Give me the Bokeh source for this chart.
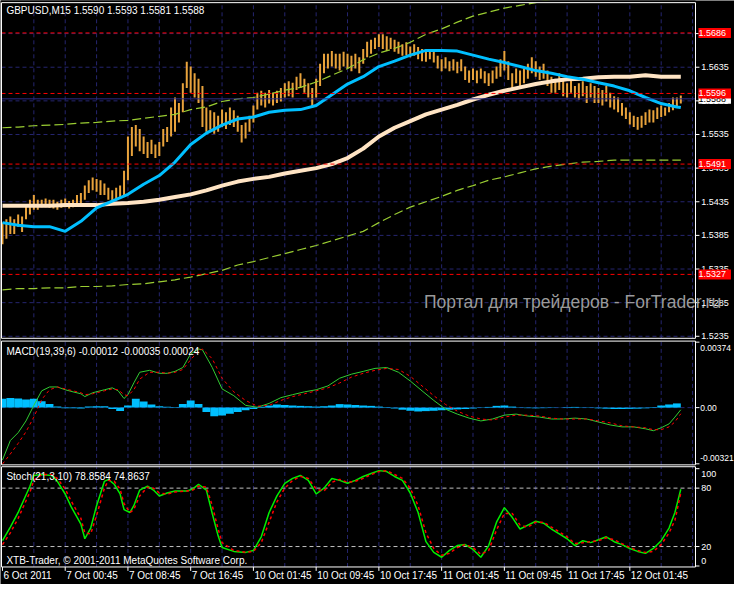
from bokeh.plotting import figure
from bokeh.models import ColumnDataSource, Label, LabelSet, Range1d
from bokeh.embed import file_html
from bokeh.resources import INLINE
from bokeh.core.properties import value

# ---------------- data ----------------
# price bars (every second M15 bar), bar numbers in M15 units
bar_time = list(range(0, 348, 2))
bar_high = [
    1.5404, 1.5409, 1.5413, 1.5409, 1.5416, 1.5413, 1.5430, 1.5438, 1.5445, 1.5438,
    1.5438, 1.5440, 1.5438, 1.5438, 1.5435, 1.5438, 1.5440, 1.5436, 1.5438, 1.5445,
    1.5448, 1.5459, 1.5467, 1.5471, 1.5469, 1.5467, 1.5462, 1.5456, 1.5452, 1.5456,
    1.5459, 1.5481, 1.5532, 1.5546, 1.5549, 1.5543, 1.5532, 1.5524, 1.5527, 1.5520,
    1.5524, 1.5543, 1.5546, 1.5575, 1.5590, 1.5582, 1.5611, 1.5643, 1.5636, 1.5626,
    1.5618, 1.5607, 1.5575, 1.5571, 1.5568, 1.5563, 1.5572, 1.5568, 1.5575, 1.5571,
    1.5563, 1.5549, 1.5553, 1.5563, 1.5578, 1.5597, 1.5600, 1.5597, 1.5601, 1.5597,
    1.5600, 1.5604, 1.5611, 1.5614, 1.5612, 1.5621, 1.5626, 1.5618, 1.5611, 1.5604,
    1.5618, 1.5640, 1.5655, 1.5655, 1.5659, 1.5655, 1.5655, 1.5658, 1.5655, 1.5652,
    1.5655, 1.5650, 1.5662, 1.5673, 1.5676, 1.5679, 1.5684, 1.5684, 1.5681, 1.5679,
    1.5676, 1.5673, 1.5669, 1.5672, 1.5666, 1.5669, 1.5665, 1.5662, 1.5659, 1.5662,
    1.5659, 1.5652, 1.5647, 1.5650, 1.5644, 1.5647, 1.5643, 1.5647, 1.5636, 1.5630,
    1.5633, 1.5630, 1.5633, 1.5629, 1.5626, 1.5630, 1.5636, 1.5647, 1.5659, 1.5644,
    1.5626, 1.5633, 1.5630, 1.5633, 1.5640, 1.5650, 1.5644, 1.5636, 1.5640, 1.5630,
    1.5621, 1.5618, 1.5626, 1.5616, 1.5611, 1.5618, 1.5607, 1.5611, 1.5614, 1.5607,
    1.5611, 1.5607, 1.5604, 1.5601, 1.5607, 1.5597, 1.5592, 1.5590, 1.5582, 1.5575,
    1.5568, 1.5563, 1.5561, 1.5563, 1.5568, 1.5572, 1.5571, 1.5575, 1.5578, 1.5575,
    1.5582, 1.5590, 1.5590, 1.5593]
bar_low = [
    1.5372, 1.5380, 1.5387, 1.5387, 1.5398, 1.5390, 1.5409, 1.5416, 1.5423, 1.5423,
    1.5427, 1.5427, 1.5426, 1.5425, 1.5423, 1.5426, 1.5427, 1.5425, 1.5427, 1.5430,
    1.5433, 1.5438, 1.5448, 1.5452, 1.5450, 1.5445, 1.5445, 1.5438, 1.5433, 1.5438,
    1.5440, 1.5445, 1.5467, 1.5503, 1.5517, 1.5510, 1.5506, 1.5500, 1.5506, 1.5500,
    1.5503, 1.5517, 1.5524, 1.5532, 1.5539, 1.5553, 1.5568, 1.5604, 1.5597, 1.5590,
    1.5582, 1.5546, 1.5539, 1.5542, 1.5536, 1.5539, 1.5546, 1.5543, 1.5549, 1.5546,
    1.5539, 1.5523, 1.5529, 1.5539, 1.5553, 1.5572, 1.5578, 1.5575, 1.5581, 1.5578,
    1.5582, 1.5584, 1.5590, 1.5592, 1.5590, 1.5601, 1.5604, 1.5597, 1.5590, 1.5575,
    1.5590, 1.5607, 1.5626, 1.5633, 1.5636, 1.5633, 1.5630, 1.5636, 1.5633, 1.5629,
    1.5633, 1.5626, 1.5640, 1.5650, 1.5655, 1.5662, 1.5665, 1.5662, 1.5659, 1.5662,
    1.5658, 1.5655, 1.5652, 1.5653, 1.5650, 1.5652, 1.5647, 1.5644, 1.5643, 1.5647,
    1.5642, 1.5633, 1.5629, 1.5633, 1.5629, 1.5630, 1.5626, 1.5629, 1.5616, 1.5612,
    1.5616, 1.5611, 1.5618, 1.5611, 1.5607, 1.5611, 1.5618, 1.5621, 1.5630, 1.5616,
    1.5604, 1.5611, 1.5607, 1.5611, 1.5618, 1.5626, 1.5621, 1.5616, 1.5618, 1.5607,
    1.5597, 1.5597, 1.5601, 1.5592, 1.5590, 1.5597, 1.5590, 1.5587, 1.5592, 1.5582,
    1.5590, 1.5582, 1.5582, 1.5578, 1.5584, 1.5575, 1.5572, 1.5568, 1.5563, 1.5558,
    1.5550, 1.5546, 1.5542, 1.5545, 1.5549, 1.5553, 1.5553, 1.5558, 1.5561, 1.5563,
    1.5568, 1.5571, 1.5575, 1.5581]

# moving averages and envelope (sampled every 8 bars)
ma_time = list(range(0, 345, 8)) + [346]
ma_fast = [1.5404, 1.5400, 1.5398, 1.5398, 1.5391, 1.5406, 1.5426, 1.5436, 1.5446, 1.5461,
           1.5474, 1.5494, 1.5520, 1.5537, 1.5549, 1.5558, 1.5561, 1.5568, 1.5571, 1.5572,
           1.5578, 1.5594, 1.5610, 1.5621, 1.5636, 1.5644, 1.5653, 1.5660, 1.5660, 1.5659,
           1.5653, 1.5647, 1.5642, 1.5636, 1.5630, 1.5626, 1.5621, 1.5617, 1.5612, 1.5607,
           1.5600, 1.5590, 1.5581, 1.5576, 1.5575]
ma_slow = [1.5429, 1.5429, 1.5429, 1.5429, 1.5430, 1.5430, 1.5430, 1.5432, 1.5433, 1.5435,
           1.5438, 1.5442, 1.5446, 1.5452, 1.5459, 1.5465, 1.5469, 1.5472, 1.5477, 1.5481,
           1.5485, 1.5491, 1.5500, 1.5514, 1.5532, 1.5545, 1.5555, 1.5565, 1.5572, 1.5579,
           1.5587, 1.5594, 1.5600, 1.5605, 1.5610, 1.5614, 1.5617, 1.5618, 1.5620, 1.5621,
           1.5621, 1.5623, 1.5621, 1.5621, 1.5621]
env_upper = [1.5545, 1.5546, 1.5548, 1.5549, 1.5550, 1.5552, 1.5553, 1.5555, 1.5556, 1.5559,
             1.5562, 1.5565, 1.5572, 1.5576, 1.5584, 1.5588, 1.5590, 1.5595, 1.5601, 1.5605,
             1.5613, 1.5623, 1.5633, 1.5646, 1.5656, 1.5663, 1.5672, 1.5684, 1.5692, 1.5702,
             1.5711, 1.5717, 1.5723, 1.5727, 1.5731, 1.5736, 1.5739, 1.5741, 1.5743, 1.5744,
             1.5746, 1.5747, 1.5747, 1.5749, 1.5749]
env_lower = [1.5304, 1.5306, 1.5306, 1.5307, 1.5307, 1.5309, 1.5309, 1.5310, 1.5312, 1.5313,
             1.5316, 1.5319, 1.5323, 1.5328, 1.5333, 1.5341, 1.5346, 1.5352, 1.5358, 1.5364,
             1.5370, 1.5377, 1.5384, 1.5391, 1.5404, 1.5416, 1.5427, 1.5435, 1.5443, 1.5452,
             1.5459, 1.5467, 1.5472, 1.5478, 1.5484, 1.5488, 1.5491, 1.5494, 1.5495, 1.5497,
             1.5497, 1.5497, 1.5497, 1.5497, 1.5497]

level_prices = [1.5686, 1.5596, 1.5491, 1.5327]
bid_price = 1.5588
price_ticks = [1.5235, 1.5285, 1.5335, 1.5385, 1.5435, 1.5485, 1.5535, 1.5585, 1.5635, 1.5685]

# MACD(19,39,6)
macd_time = [0, 4, 8, 12, 16, 20, 24, 28, 32, 36, 40, 42, 46, 52, 56, 59, 62, 64, 67, 70,
             75, 80, 84, 88, 92, 96, 100, 102, 107, 112, 118, 124, 130, 136, 142, 148, 154, 160, 166, 172,
             178, 184, 190, 196, 202, 208, 214, 220, 226, 232, 238, 244, 250, 256, 262, 268, 274, 280, 286, 292,
             298, 304, 310, 316, 322, 328, 332, 336, 340, 343, 346]
macd_main = [-0.00299, -0.00188, -0.00143, -0.00076, 0.00013, 0.00096, 0.00118, 0.00118, 0.00102, 0.00090,
             0.00079, 0.00063, 0.00085, 0.00102, 0.00113, 0.00096, 0.00052, 0.00074, 0.00141, 0.00202,
             0.00213, 0.00196, 0.00196, 0.00207, 0.00229, 0.00307, 0.00335, 0.00330, 0.00229, 0.00107,
             0.00068, 0.00013, 0.00002, 0.00024, 0.00057, 0.00074, 0.00090, 0.00102, 0.00124, 0.00168,
             0.00191, 0.00207, 0.00224, 0.00229, 0.00202, 0.00152, 0.00096, 0.00041, -0.00009, -0.00037,
             -0.00060, -0.00076, -0.00065, -0.00043, -0.00037, -0.00048, -0.00054, -0.00065, -0.00065, -0.00060,
             -0.00065, -0.00082, -0.00099, -0.00110, -0.00110, -0.00121, -0.00132, -0.00115, -0.00093, -0.00054,
             -0.00012]
macd_signal = [-0.00322, -0.00265, -0.00204, -0.00138, -0.00054, 0.00046, 0.00102, 0.00118, 0.00107, 0.00096,
               0.00085, 0.00074, 0.00079, 0.00096, 0.00107, 0.00102, 0.00074, 0.00068, 0.00102, 0.00163,
               0.00202, 0.00202, 0.00196, 0.00202, 0.00218, 0.00274, 0.00324, 0.00335, 0.00279, 0.00168,
               0.00090, 0.00041, 0.00008, 0.00013, 0.00041, 0.00063, 0.00079, 0.00096, 0.00113, 0.00141,
               0.00174, 0.00196, 0.00213, 0.00224, 0.00218, 0.00179, 0.00124, 0.00068, 0.00018, -0.00020,
               -0.00048, -0.00065, -0.00071, -0.00054, -0.00043, -0.00043, -0.00048, -0.00060, -0.00065, -0.00065,
               -0.00065, -0.00076, -0.00087, -0.00104, -0.00110, -0.00115, -0.00126, -0.00126, -0.00110, -0.00082,
               -0.00035]
hist_time = list(range(0, 348, 4))
macd_hist = [0.00050, 0.00055, 0.00052, 0.00046, 0.00050, 0.00036, 0.00020, 0.00006, -0.00003, -0.00004,
             -0.00005, 0.00006, 0.00008, 0.00008, -0.00008, -0.00020, 0.00012, 0.00050, 0.00035, 0.00018,
             0.00008, 0.00005, 0.00004, 0.00020, 0.00040, 0.00020, -0.00025, -0.00050, -0.00045, -0.00035,
             -0.00025, -0.00015, -0.00008, 0.00005, 0.00012, 0.00018, 0.00015, 0.00012, 0.00010, 0.00008,
             0.00006, 0.00008, 0.00012, 0.00020, 0.00018, 0.00015, 0.00012, 0.00010, 0.00006, 0.00003,
             -0.00005, -0.00012, -0.00018, -0.00022, -0.00020, -0.00018, -0.00015, -0.00012, -0.00010, -0.00008,
             -0.00005, -0.00002, 0.00004, 0.00010, 0.00012, 0.00006, 0.00002, -0.00003, -0.00004, -0.00003,
             -0.00002, 0.00001, 0.00003, 0.00004, 0.00002, -0.00002, -0.00004, -0.00006, -0.00008, -0.00008,
             -0.00007, -0.00006, -0.00004, 0.00003, 0.00012, 0.00018, 0.00024]
macd_ticks = [0.00374, 0.0, -0.00321]
macd_tick_labels = ["0.00374", "0.00", "-0.00321"]

# Stoch(21,3,10)
stoch_time = [0, 4, 8, 14, 16, 20, 25, 28, 32, 35, 40, 42, 45, 48, 52, 54, 57, 60, 62, 65,
              67, 70, 74, 77, 80, 84, 88, 94, 97, 100, 104, 107, 110, 112, 118, 124, 128, 132, 136, 140,
              144, 148, 152, 156, 160, 164, 168, 172, 176, 180, 184, 188, 192, 196, 200, 204, 208, 212, 216, 220,
              224, 228, 232, 236, 240, 244, 248, 252, 256, 260, 264, 268, 272, 276, 280, 284, 288, 292, 296, 300,
              304, 308, 312, 316, 320, 324, 328, 332, 336, 340, 343, 346]
stoch_main = [26, 40, 55, 82, 93, 94, 93, 87, 74, 61, 43, 28, 39, 62, 87, 89, 84, 74, 58, 55,
              62, 78, 82, 78, 72, 75, 77, 77, 79, 84, 78, 54, 31, 19, 15, 14, 16, 30, 55, 72,
              85, 90, 93, 88, 74, 80, 90, 88, 85, 88, 92, 95, 98, 97, 92, 88, 75, 55, 25, 14,
              9, 16, 21, 22, 17, 9, 21, 45, 60, 50, 38, 42, 46, 44, 38, 33, 28, 21, 26, 24,
              27, 30, 25, 22, 18, 15, 13, 18, 26, 39, 55, 78.86]
stoch_signal = [22, 34, 49, 76, 88, 94, 94, 90, 79, 67, 49, 34, 33, 52, 80, 88, 87, 79, 64, 55,
                58, 72, 81, 80, 75, 74, 76, 77, 78, 82, 81, 62, 38, 24, 16, 14, 15, 24, 45, 66,
                80, 88, 92, 90, 79, 77, 86, 89, 86, 87, 90, 94, 97, 98, 94, 90, 80, 62, 34, 18,
                11, 13, 19, 22, 19, 12, 16, 37, 54, 54, 42, 40, 45, 45, 40, 35, 30, 23, 24, 25,
                26, 29, 27, 23, 19, 16, 14, 15, 22, 34, 47, 74.86]
stoch_ticks = [100, 80, 20, 0]
stoch_levels = [80, 20]

time_ticks = [0, 32, 64, 96, 128, 160, 192, 224, 256, 288, 320]
time_labels = ["6 Oct 2011", "7 Oct 00:45", "7 Oct 08:45", "7 Oct 16:45", "10 Oct 01:45",
               "10 Oct 09:45", "10 Oct 17:45", "11 Oct 01:45", "11 Oct 09:45", "11 Oct 17:45",
               "12 Oct 01:45"]
grid_time = list(range(16, 354, 16))

# ---------------- style / layout constants ----------------
FONT = "Liberation Sans"
FS = "10px"
FS_AX = "9px"
GRID = "#25256f"
BAR = "#E9A33C"
X0, X1 = -0.5, 353.5            # panel left/right border (bar units)
LBL_X = 356.4                   # right-hand label column
BOX_X = 355.0
TICK_X = 355.5
MAIN_BOT, MAIN_TOP = 1.5232, 1.5731
MACD_BOT, MACD_TOP = -0.00327, 0.00380
ST_BOT, ST_TOP = -1.0, 102.0

p = figure(width=734, height=584, x_range=Range1d(-1.01, 373.39),
           y_range=Range1d(1.48660, 1.57342),
           output_backend="svg", toolbar_location=None,
           x_axis_location=None, y_axis_location=None, min_border=0,
           background_fill_color="black", border_fill_color="black")
p.extra_y_ranges = {"macd": Range1d(-0.010104, 0.023256), "stoch": Range1d(-19.0, 581.0)}
p.grid.visible = False
p.outline_line_color = None

panels = [("default", MAIN_BOT, MAIN_TOP), ("macd", MACD_BOT, MACD_TOP), ("stoch", ST_BOT, ST_TOP)]

# vertical grid in every window
for rn, lo, hi in panels:
    p.segment(x0=grid_time, x1=grid_time, y0=lo, y1=hi, y_range_name=rn,
              line_color=GRID, line_width=1, line_dash="4 3")

# ---- main window ----
p.segment(x0=X0, x1=X1, y0=price_ticks, y1=price_ticks, line_color=GRID, line_width=1, line_dash="4 3")
bars = ColumnDataSource(dict(t=bar_time, high=bar_high, low=bar_low))
p.segment(x0="t", y0="low", x1="t", y1="high", source=bars, line_color=BAR, line_width=2)
p.line(ma_time, env_upper, line_color="#9ACD32", line_width=1.2, line_dash="9 4")
p.line(ma_time, env_lower, line_color="#9ACD32", line_width=1.2, line_dash="9 4")
p.line(ma_time, ma_slow, line_color="#FFE4C4", line_width=4)
p.line(ma_time, ma_fast, line_color="#00BFFF", line_width=3)
p.segment(x0=X0, x1=X1, y0=level_prices, y1=level_prices, line_color="#FF0000",
          line_width=1, line_dash="4 3")
p.segment(x0=X0, x1=X1, y0=[bid_price], y1=[bid_price], line_color="#2b2b85", line_width=1)
# mask above the main window (envelope leaves the window)
p.quad(left=-1.01, right=X1, bottom=MAIN_TOP, top=1.5736, fill_color="black", line_color=None)
p.segment(x0=X1, x1=TICK_X, y0=price_ticks, y1=price_ticks, line_color="white", line_width=1)

# ---- MACD window ----
p.segment(x0=X0, x1=X1, y0=[0.0], y1=[0.0], y_range_name="macd",
          line_color=GRID, line_width=1, line_dash="4 3")
p.vbar(x=hist_time, top=macd_hist, bottom=0, width=4, y_range_name="macd",
       fill_color="#00BFFF", line_color=None)
p.line(macd_time, macd_main, y_range_name="macd", line_color="#32CD32", line_width=1)
p.line(macd_time, macd_signal, y_range_name="macd", line_color="#FF0000", line_width=1, line_dash="3 3")
p.segment(x0=X1, x1=TICK_X, y0=macd_ticks, y1=macd_ticks, y_range_name="macd",
          line_color="white", line_width=1)

# ---- Stochastic window ----
p.segment(x0=X0, x1=X1, y0=stoch_levels, y1=stoch_levels, y_range_name="stoch",
          line_color="#C0C0C0", line_width=1, line_dash="4 3")
p.line(stoch_time, stoch_main, y_range_name="stoch", line_color="#00EE00", line_width=1.5)
p.line(stoch_time, stoch_signal, y_range_name="stoch", line_color="#FF0000", line_width=1.5,
       line_dash="3 3")
p.segment(x0=X1, x1=TICK_X, y0=stoch_ticks, y1=stoch_ticks, y_range_name="stoch",
          line_color="white", line_width=1)
# time-axis tick marks
p.segment(x0=time_ticks, x1=time_ticks, y0=-1, y1=-5, y_range_name="stoch",
          line_color="white", line_width=1)

# window borders
for rn, lo, hi in panels:
    p.quad(left=X0, right=X1, bottom=lo, top=hi, y_range_name=rn,
           fill_color=None, line_color="white", line_width=1)

# ---------------- texts ----------------
def text_col(ys, texts, rn, size=FS_AX, x=LBL_X):
    src = ColumnDataSource(dict(y=ys, text=texts))
    p.add_layout(LabelSet(x=x, y="y", text="text", source=src, y_range_name=rn,
                          text_color="white", text_font=value(FONT), text_font_size=size,
                          text_baseline="middle"))


text_col(price_ticks, [f"{t:.4f}" for t in price_ticks], "default")
p.add_layout(Label(x=BOX_X, y=bid_price, text=f" {bid_price:.4f} ", text_color="black",
                   background_fill_color="white", text_font=FONT, text_font_size=FS_AX,
                   text_baseline="middle"))
for lv in level_prices:
    p.add_layout(Label(x=BOX_X, y=lv, text=f" {lv:.4f} ", text_color="white",
                       background_fill_color="#FF0000", text_font=FONT, text_font_size=FS_AX,
                       text_baseline="middle"))
p.add_layout(Label(x=215, y=1.5286, text="Портал для трейдеров - ForTrader.ru",
                   text_color="#9a9a9a", text_font=FONT, text_font_size="17.5px",
                   text_baseline="middle"))
p.add_layout(Label(x=2, y=1.5719, text="GBPUSD,M15  1.5590 1.5593 1.5581 1.5588",
                   text_color="white", text_font=FONT, text_font_size=FS, text_baseline="middle"))

text_col([0.00341, 0.0, -0.00288], macd_tick_labels, "macd", size="8.5px", x=355.9)
p.add_layout(Label(x=2, y=0.00318, y_range_name="macd",
                   text="MACD(19,39,6) -0.00012 -0.00035 0.00024",
                   text_color="white", text_font=FONT, text_font_size=FS, text_baseline="middle"))

text_col([95, 80, 20, 5], [str(t) for t in stoch_ticks], "stoch")
p.add_layout(Label(x=2, y=92, y_range_name="stoch", text="Stoch(21,3,10) 78.8584 74.8637",
                   text_color="white", text_font=FONT, text_font_size=FS, text_baseline="middle"))
p.add_layout(Label(x=2, y=6, y_range_name="stoch",
                   text="XTB-Trader, © 2001-2011 MetaQuotes Software Corp.",
                   text_color="white", text_font=FONT, text_font_size=FS, text_baseline="middle"))
tsrc = ColumnDataSource(dict(x=time_ticks, text=time_labels))
p.add_layout(LabelSet(x="x", y=-4, text="text", source=tsrc, y_range_name="stoch", x_offset=1,
                      text_color="white", text_font=value(FONT), text_font_size=FS,
                      text_baseline="top", text_align="left"))

open("out.html", "w").write(file_html(p, INLINE))
